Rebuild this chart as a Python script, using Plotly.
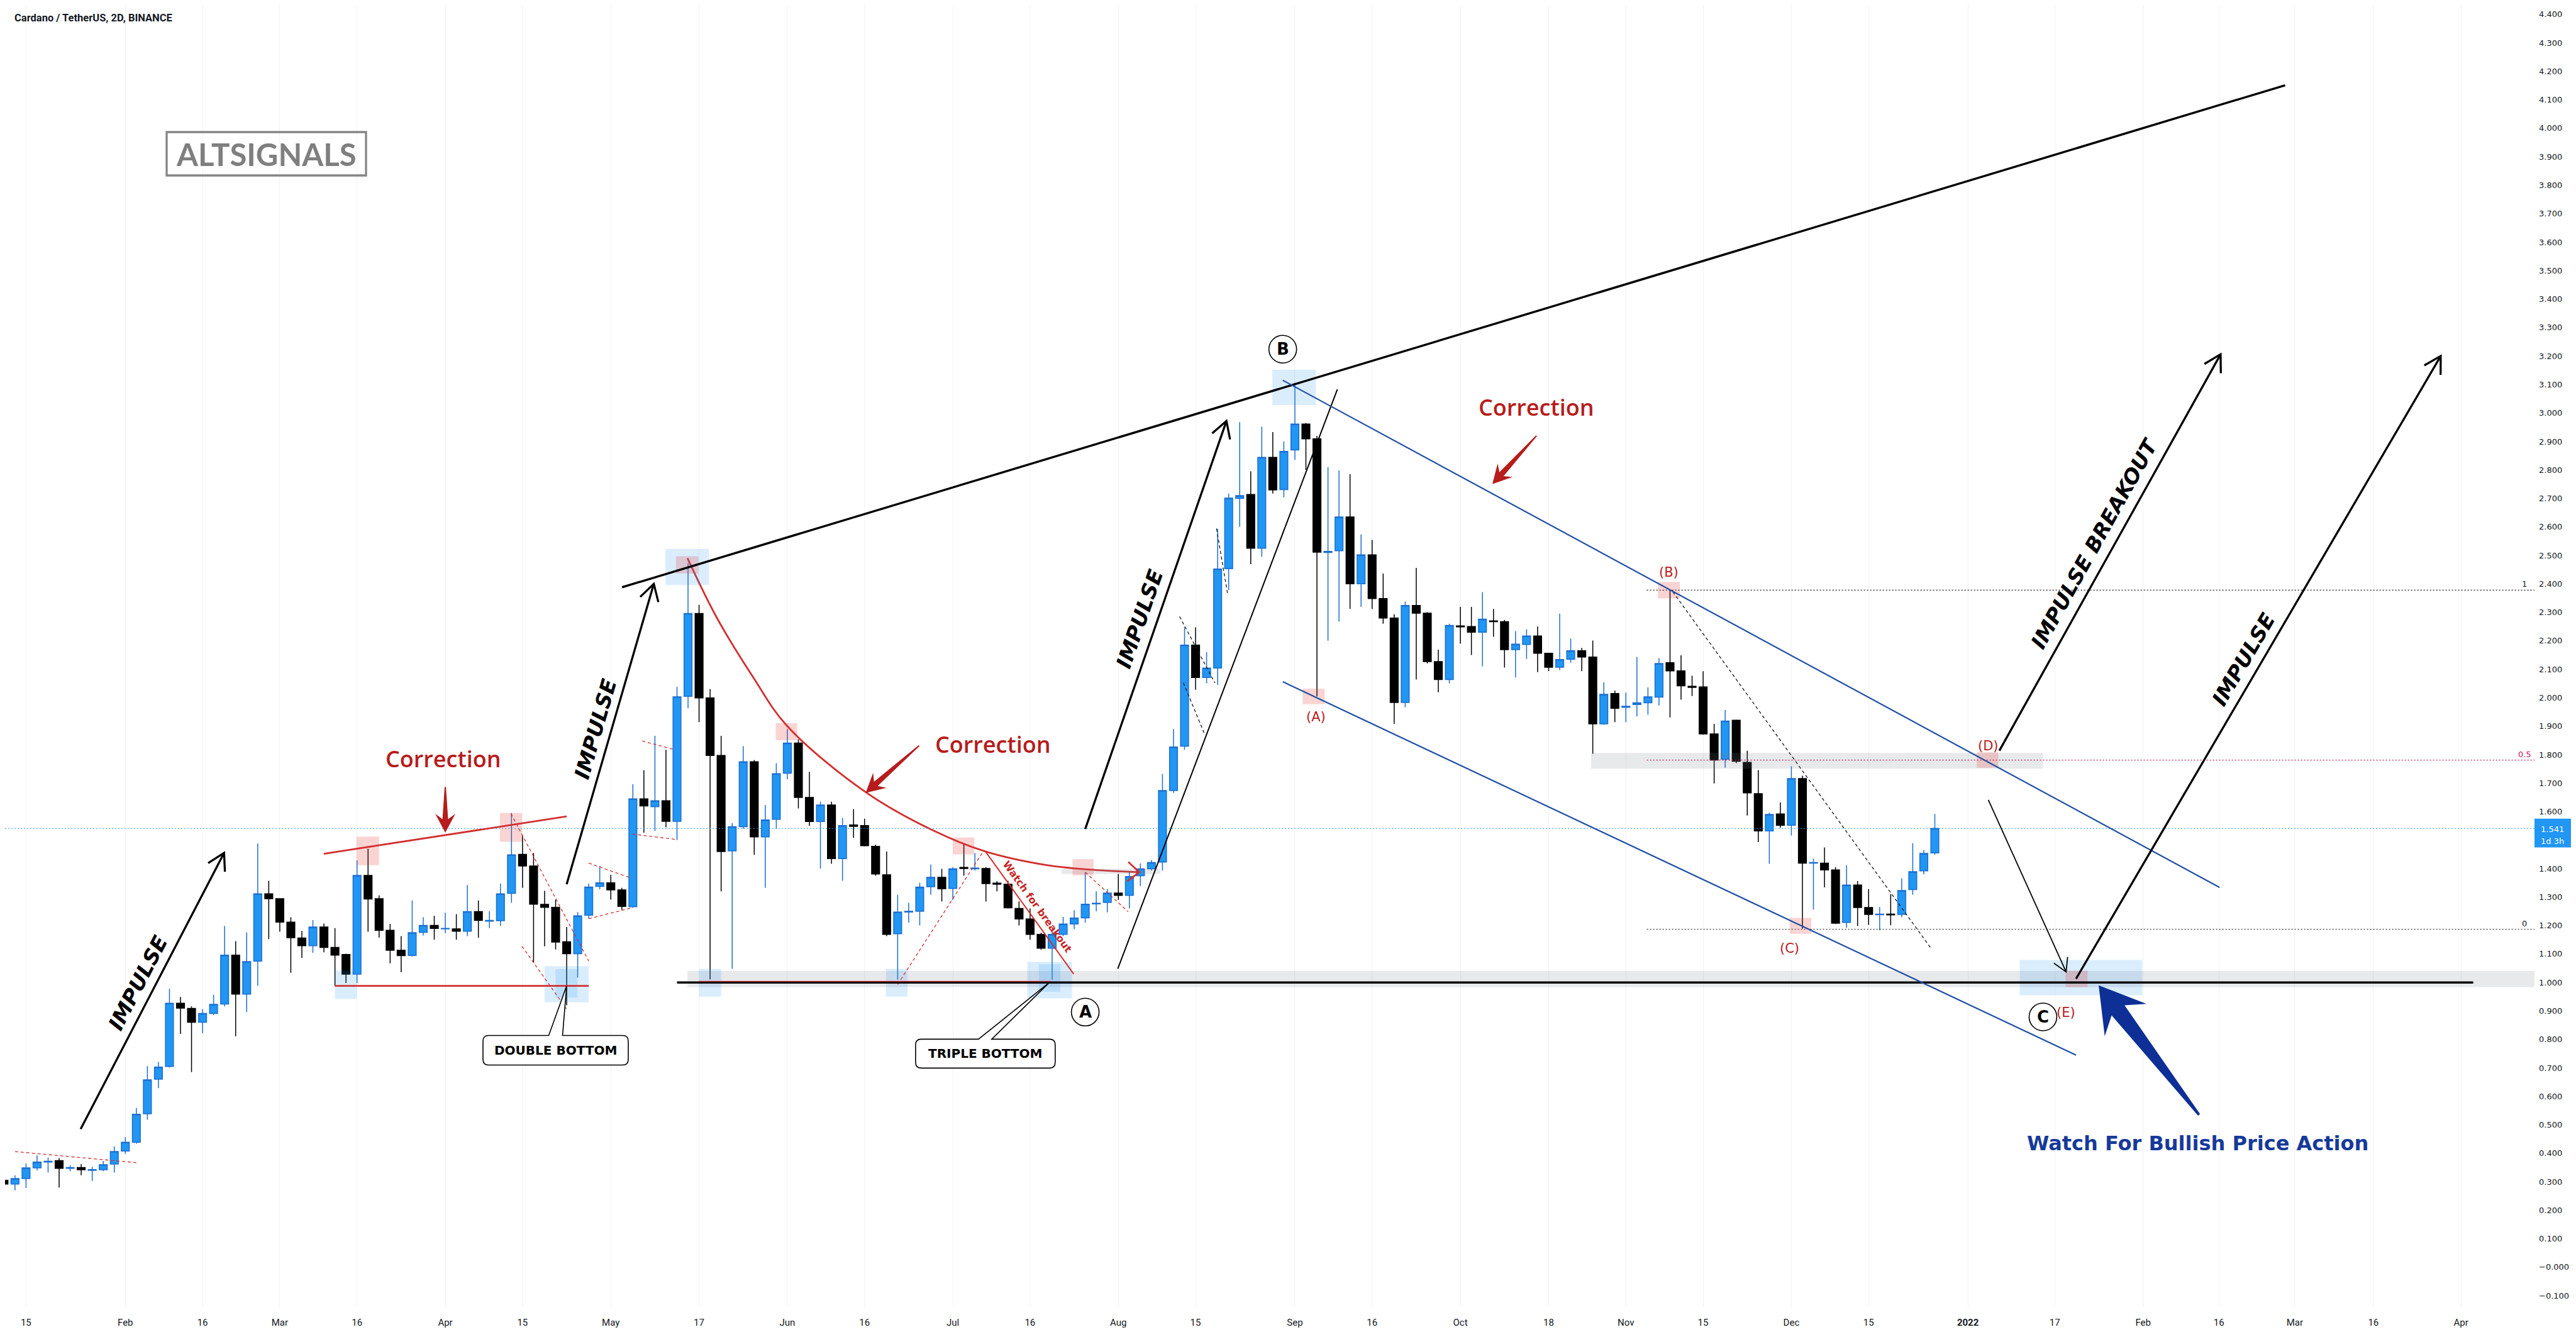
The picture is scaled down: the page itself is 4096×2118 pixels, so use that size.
import math
import pandas as pd
import plotly.graph_objects as go

# ---------------- candle data (ADA / USDT, 2-day bars) ----------------
BAR_START = "2021-01-11"
OPEN = [0.305, 0.292, 0.311, 0.349, 0.369, 0.374, 0.347, 0.350, 0.340, 0.342,
        0.362, 0.408, 0.439, 0.539, 0.660, 0.705, 0.927, 0.909, 0.860, 0.891,
        0.924, 1.096, 0.959, 1.075, 1.311, 1.294, 1.212, 1.156, 1.129, 1.195,
        1.123, 1.098, 1.029, 1.376, 1.294, 1.183, 1.113, 1.095, 1.176, 1.200,
        1.188, 1.188, 1.180, 1.249, 1.215, 1.217, 1.313, 1.450, 1.409, 1.274,
        1.264, 1.143, 1.101, 1.236, 1.337, 1.350, 1.325, 1.266, 1.645, 1.617,
        1.638, 1.566, 2.005, 2.296, 1.999, 1.797, 1.462, 1.547, 1.775, 1.511,
        1.573, 1.735, 1.841, 1.650, 1.565, 1.623, 1.435, 1.553, 1.551, 1.478,
        1.378, 1.171, 1.247, 1.250, 1.336, 1.369, 1.330, 1.404, 1.399, 1.400,
        1.349, 1.345, 1.260, 1.223, 1.169, 1.120, 1.169, 1.205, 1.227, 1.276,
        1.281, 1.314, 1.306, 1.375, 1.399, 1.423, 1.674, 1.830, 2.185, 2.071,
        2.104, 2.453, 2.700, 2.714, 2.525, 2.844, 2.731, 2.870, 2.961, 2.909,
        2.510, 2.516, 2.635, 2.400, 2.502, 2.348, 2.280, 1.983, 2.324, 2.297,
        2.127, 2.064, 2.252, 2.250, 2.230, 2.270, 2.267, 2.169, 2.187, 2.217,
        2.156, 2.107, 2.135, 2.165, 2.143, 1.908, 2.015, 1.966, 1.976, 1.982,
        2.002, 2.123, 2.094, 2.040, 2.038, 1.873, 1.784, 1.921, 1.773, 1.663,
        1.532, 1.592, 1.552, 1.716, 1.419, 1.419, 1.395, 1.211, 1.342, 1.263,
        1.238, 1.240, 1.239, 1.326, 1.392, 1.455]
HIGH = [0.330, 0.323, 0.364, 0.393, 0.385, 0.383, 0.357, 0.362, 0.352, 0.373,
        0.424, 0.457, 0.559, 0.706, 0.721, 0.978, 0.949, 0.916, 0.906, 0.957,
        1.198, 1.145, 1.176, 1.488, 1.357, 1.296, 1.229, 1.181, 1.219, 1.207,
        1.191, 1.101, 1.429, 1.470, 1.306, 1.206, 1.163, 1.288, 1.229, 1.234,
        1.245, 1.240, 1.342, 1.288, 1.250, 1.347, 1.595, 1.516, 1.455, 1.322,
        1.291, 1.195, 1.247, 1.347, 1.409, 1.378, 1.332, 1.696, 1.745, 1.866,
        1.817, 2.038, 2.472, 2.326, 2.030, 1.866, 1.560, 1.830, 1.781, 1.623,
        1.770, 1.890, 1.854, 1.740, 1.635, 1.635, 1.578, 1.609, 1.575, 1.484,
        1.460, 1.308, 1.280, 1.350, 1.414, 1.399, 1.405, 1.484, 1.454, 1.405,
        1.356, 1.357, 1.285, 1.260, 1.175, 1.185, 1.230, 1.254, 1.387, 1.320,
        1.327, 1.381, 1.390, 1.418, 1.430, 1.732, 1.890, 2.248, 2.247, 2.160,
        2.593, 2.717, 2.968, 2.795, 2.952, 2.933, 2.900, 3.106, 2.965, 2.920,
        2.810, 2.798, 2.785, 2.573, 2.554, 2.436, 2.293, 2.338, 2.456, 2.300,
        2.169, 2.260, 2.319, 2.319, 2.371, 2.312, 2.273, 2.234, 2.240, 2.250,
        2.158, 2.295, 2.208, 2.175, 2.201, 2.054, 2.025, 2.018, 2.143, 2.036,
        2.139, 2.378, 2.149, 2.077, 2.093, 1.908, 1.957, 1.923, 1.814, 1.746,
        1.596, 1.632, 1.759, 1.726, 1.435, 1.474, 1.405, 1.411, 1.356, 1.328,
        1.265, 1.310, 1.366, 1.489, 1.465, 1.592]
LOW = [0.270, 0.270, 0.278, 0.340, 0.332, 0.280, 0.337, 0.323, 0.303, 0.337,
       0.332, 0.398, 0.434, 0.518, 0.629, 0.701, 0.819, 0.685, 0.822, 0.886,
       0.916, 0.811, 0.896, 0.988, 1.152, 1.178, 1.034, 1.086, 1.104, 1.106,
       0.988, 0.998, 0.998, 1.178, 1.157, 1.067, 1.036, 1.091, 1.165, 1.150,
       1.173, 1.150, 1.163, 1.157, 1.191, 1.198, 1.280, 1.332, 1.070, 1.127,
       1.116, 0.920, 1.017, 1.224, 1.327, 1.291, 1.255, 1.262, 1.526, 1.532,
       1.545, 1.500, 1.963, 1.914, 1.011, 1.320, 1.048, 1.540, 1.448, 1.332,
       1.540, 1.714, 1.611, 1.550, 1.400, 1.417, 1.357, 1.508, 1.478, 1.375,
       1.163, 1.010, 1.210, 1.200, 1.308, 1.284, 1.290, 1.375, 1.393, 1.284,
       1.320, 1.260, 1.200, 1.150, 1.115, 1.010, 1.163, 1.187, 1.210, 1.250,
       1.246, 1.290, 1.260, 1.339, 1.393, 1.393, 1.666, 1.817, 2.028, 2.050,
       2.045, 2.378, 2.600, 2.469, 2.495, 2.717, 2.704, 2.835, 2.800, 2.005,
       2.200, 2.267, 2.312, 2.319, 2.312, 2.260, 1.908, 1.966, 2.064, 2.120,
       2.019, 2.050, 2.190, 2.150, 2.110, 2.214, 2.106, 2.071, 2.136, 2.090,
       2.093, 2.097, 2.123, 2.093, 1.803, 1.905, 1.914, 1.914, 1.934, 1.940,
       1.973, 1.931, 1.993, 2.006, 1.870, 1.699, 1.754, 1.770, 1.586, 1.493,
       1.417, 1.544, 1.516, 1.189, 1.256, 1.334, 1.205, 1.192, 1.198, 1.202,
       1.183, 1.201, 1.229, 1.308, 1.380, 1.449]
CLOSE = [0.292, 0.311, 0.349, 0.369, 0.372, 0.347, 0.350, 0.342, 0.343, 0.360,
         0.406, 0.439, 0.537, 0.658, 0.703, 0.927, 0.910, 0.860, 0.891, 0.923,
         1.096, 0.959, 1.073, 1.311, 1.294, 1.212, 1.157, 1.129, 1.195, 1.123,
         1.096, 1.029, 1.376, 1.293, 1.183, 1.113, 1.094, 1.175, 1.200, 1.190,
         1.190, 1.180, 1.249, 1.218, 1.218, 1.311, 1.448, 1.409, 1.275, 1.264,
         1.142, 1.101, 1.234, 1.335, 1.350, 1.325, 1.267, 1.645, 1.620, 1.638,
         1.566, 2.003, 2.296, 1.999, 1.797, 1.460, 1.547, 1.775, 1.511, 1.571,
         1.733, 1.841, 1.650, 1.565, 1.623, 1.435, 1.551, 1.548, 1.480, 1.381,
         1.169, 1.247, 1.250, 1.335, 1.369, 1.329, 1.399, 1.400, 1.402, 1.347,
         1.345, 1.262, 1.223, 1.169, 1.120, 1.169, 1.205, 1.226, 1.275, 1.278,
         1.314, 1.306, 1.372, 1.399, 1.421, 1.674, 1.827, 2.185, 2.071, 2.104,
         2.452, 2.701, 2.710, 2.525, 2.844, 2.730, 2.865, 2.961, 2.909, 2.511,
         2.514, 2.635, 2.400, 2.502, 2.348, 2.280, 1.983, 2.324, 2.297, 2.127,
         2.064, 2.254, 2.249, 2.230, 2.276, 2.267, 2.169, 2.188, 2.217, 2.156,
         2.107, 2.134, 2.165, 2.143, 1.908, 2.012, 1.963, 1.970, 1.982, 2.003,
         2.120, 2.094, 2.042, 2.036, 1.873, 1.781, 1.918, 1.777, 1.666, 1.532,
         1.590, 1.552, 1.716, 1.419, 1.421, 1.395, 1.208, 1.342, 1.263, 1.239,
         1.240, 1.237, 1.323, 1.389, 1.453, 1.541]
BAR_DATES = pd.date_range(BAR_START, periods=len(OPEN), freq="2D")
LAST_PRICE = 1.541

# ---------------- axis ticks ----------------
X_TICK_DATES = ["2021-01-15", "2021-02-02", "2021-02-16", "2021-03-02", "2021-03-16",
                "2021-04-01", "2021-04-15", "2021-05-01", "2021-05-17", "2021-06-02",
                "2021-06-16", "2021-07-02", "2021-07-16", "2021-08-01", "2021-08-15",
                "2021-09-02", "2021-09-16", "2021-10-02", "2021-10-18", "2021-11-01",
                "2021-11-15", "2021-12-01", "2021-12-15", "2022-01-02", "2022-01-17 18:00",
                "2022-02-02 18:00", "2022-02-16 12:00", "2022-03-02 06:00",
                "2022-03-16 12:00", "2022-04-01 09:00"]
X_TICK_TEXT = ["15", "Feb", "16", "Mar", "16", "Apr", "15", "May", "17", "Jun", "16",
               "Jul", "16", "Aug", "15", "Sep", "16", "Oct", "18", "Nov", "15", "Dec",
               "15", "<b>2022</b>", "17", "Feb", "16", "Mar", "16", "Apr"]
Y_TICK_VALUES = [-0.1, 0.0, 0.1, 0.2, 0.3, 0.4, 0.5, 0.6, 0.7, 0.8, 0.9, 1.0, 1.1, 1.2,
                 1.3, 1.4, 1.6, 1.7, 1.8, 1.9, 2.0, 2.1, 2.2, 2.3, 2.4, 2.5, 2.6, 2.7,
                 2.8, 2.9, 3.0, 3.1, 3.2, 3.3, 3.4, 3.5, 3.6, 3.7, 3.8, 3.9, 4.0, 4.1,
                 4.2, 4.3, 4.4]
Y_TICK_TEXT = ["\u22120.100", "\u22120.000"] + ["%.3f" % v for v in Y_TICK_VALUES[2:]]

# ---------------- layout geometry ----------------
W, H = 4096, 2118
MARGIN = dict(l=0, r=74, t=0, b=48)
PLOT_W = W - MARGIN["l"] - MARGIN["r"]
PLOT_H = H - MARGIN["t"] - MARGIN["b"]
BASE = pd.Timestamp("2021-01-13")          # drawing anchors: days after this date, price
X_RANGE_D = (-1.805, 456.7)
Y_RANGE = (-0.1393, 4.4327)
PX_PER_DAY = PLOT_W / (X_RANGE_D[1] - X_RANGE_D[0])
PX_PER_UNIT = PLOT_H / (Y_RANGE[1] - Y_RANGE[0])

# ---------------- drawings (day offset, price) ----------------
TOP_TRENDLINE = [(110.05, 2.388), (411.5, 4.151)]
IMPULSE_ARROWS = [((11.9, 0.485), (37.9, 1.455)),
                  ((100.0, 1.345), (115.8, 2.400)),
                  ((194.0, 1.539), (219.6, 2.972)),
                  ((359.7, 1.814), (399.8, 3.206)),
                  ((373.6, 1.013), (439.7, 3.200))]
IMPULSE_LABELS = [((22.3, 1.000), "IMPULSE", 0),
                  ((105.2, 1.890), "IMPULSE", 1),
                  ((203.9, 2.278), "IMPULSE", 2),
                  ((376.9, 2.541), "IMPULSE BREAKOUT", 3),
                  ((404.0, 2.134), "IMPULSE", 4)]
CHANNEL_BLACK = [(199.9, 1.048), (239.7, 3.083)]
DOWN_ARROW = ((357.7, 1.641), (371.8, 1.037))
BLUE_UPPER = [(229.8, 3.115), (399.6, 1.334)]
BLUE_LOWER = [(229.8, 2.056), (373.6, 0.745)]
RED_TRI_TOP = [(55.97, 1.452), (100.0, 1.583)]
RED_SUPPORT = [(57.97, 0.988), (104.0, 0.988)]
BLACK_SUPPORT = [(120.0, 1.0), (445.6, 1.0)]
RED_SUPPORT_2 = [(124.0, 1.004), (187.8, 1.004)]
BREAKOUT_LINE = [(175.9, 1.460), (191.9, 1.030)]
ARC_D = [121.9, 127.3, 133.8, 139.9, 154.3, 166.5, 175.9, 187.0, 195.2, 203.8]
ARC_P = [2.490, 2.278, 2.072, 1.902, 1.667, 1.533, 1.460, 1.412, 1.396, 1.387]
RED_DASHED = [[(0.0, 0.406), (22.0, 0.367)],
              [(89.9, 1.593), (104.0, 1.075)],
              [(91.9, 1.127), (100.0, 0.906)],
              [(104.0, 1.419), (111.8, 1.366)],
              [(104.0, 1.224), (111.8, 1.262)],
              [(113.7, 1.848), (119.5, 1.818)],
              [(111.9, 1.521), (119.9, 1.502)],
              [(160.0, 0.993), (175.5, 1.460)],
              [(194.0, 1.387), (201.8, 1.248)]]
BLACK_DASHED = [[(211.1, 2.285), (217.5, 2.052)],
                [(211.8, 2.052), (215.7, 1.869)],
                [(217.8, 2.594), (219.8, 2.365)],
                [(300.5, 2.372), (347.3, 1.120)]]
PINK_BOXES = [(61.9, 66.0, 1.412, 1.512), (87.9, 91.9, 1.494, 1.595),
              (119.8, 123.9, 2.436, 2.497), (137.9, 141.8, 1.851, 1.911),
              (170.0, 173.9, 1.450, 1.509), (191.7, 195.5, 1.376, 1.433),
              (233.4, 237.4, 1.977, 2.032), (297.8, 301.8, 2.349, 2.407),
              (321.7, 325.6, 1.171, 1.227), (355.6, 359.5, 1.754, 1.808),
              (371.7, 375.7, 0.983, 1.041)]
BLUE_BOXES = [(58.0, 61.96, 0.942, 1.042), (96.0, 104.0, 0.930, 1.057),
              (97.97, 101.97, 0.947, 1.047), (117.9, 125.8, 2.396, 2.523),
              (124.0, 128.0, 0.950, 1.048), (157.9, 161.8, 0.950, 1.048),
              (183.5, 191.6, 0.944, 1.072), (185.6, 189.5, 0.967, 1.064),
              (227.9, 235.8, 3.028, 3.152), (363.4, 385.6, 0.955, 1.079)]
GRAY_BANDS = [(121.9, X_RANGE_D[1], 0.984, 1.040), (285.7, 367.6, 1.751, 1.806),
              (189.7, 207.6, 1.381, 1.399)]
FIB_START = 295.8
FIB_LEVELS = [(2.378, "1", "#131722"), (1.781, "0.5", "#c2185b"), (1.187, "0", "#131722")]
CORRECTION_LABELS = [(77.7, 1.785), (177.3, 1.837), (275.8, 3.020)]
RED_FAT_ARROWS = [((78.0, 1.687), (78.0, 1.526)),
                  ((163.9, 1.832), (154.2, 1.666)),
                  ((275.8, 2.920), (267.8, 2.750))]
BLUE_FAT_ARROW = ((395.9, 0.535), (377.7, 0.990))
WAVE_LABELS = [((235.8, 1.932), "(A)"), ((299.8, 2.441), "(B)"), ((321.7, 1.120), "(C)"),
               ((357.7, 1.831), "(D)"), ((371.8, 0.895), "(E)")]
CIRCLE_LABELS = [((194.0, 0.896), "A"), ((229.8, 3.224), "B"), ((367.6, 0.879), "C")]
CALLOUTS = [((98.0, 0.762), (100.0, 0.988), "DOUBLE BOTTOM", 231, 47, -11, 11),
            ((175.9, 0.750), (187.5, 1.000), "TRIPLE BOTTOM", 222, 46, -11, 10)]
WATCH_TEXT = ((185.3, 1.266), "Watch for breakout")
BULLISH_TEXT = ((395.6, 0.434), "Watch For Bullish Price Action")


def ts(d):
    return (BASE + pd.Timedelta(days=d)).strftime("%Y-%m-%d %H:%M:%S")


def screen_vec(a, b):
    return ((b[0] - a[0]) * PX_PER_DAY, (b[1] - a[1]) * PX_PER_UNIT)


fig = go.Figure()

fig.add_trace(go.Candlestick(
    x=BAR_DATES, open=OPEN, high=HIGH, low=LOW, close=CLOSE,
    increasing=dict(line=dict(color="#1C6FD1", width=1.5), fillcolor="#2196F3"),
    decreasing=dict(line=dict(color="#000000", width=1.5), fillcolor="#000000"),
    whiskerwidth=0, showlegend=False, hoverinfo="skip"))

fig.add_trace(go.Scatter(
    x=[ts(d) for d in ARC_D], y=ARC_P, mode="lines",
    line=dict(color="#d32f2f", width=2.8, shape="spline", smoothing=1.0),
    showlegend=False, hoverinfo="skip"))


def seg(p0, p1, color, width, dash=None, layer="above"):
    fig.add_shape(type="line", x0=ts(p0[0]), y0=p0[1], x1=ts(p1[0]), y1=p1[1],
                  line=dict(color=color, width=width, dash=dash), layer=layer)


def rect(d0, d1, p0, p1, color, layer="above"):
    fig.add_shape(type="rect", x0=ts(d0), x1=ts(d1), y0=p0, y1=p1,
                  fillcolor=color, line=dict(width=0), layer=layer)


def pixel_path(anchor, path, line=None, fill="rgba(0,0,0,0)"):
    fig.add_shape(type="path", xsizemode="pixel", ysizemode="pixel",
                  xanchor=ts(anchor[0]), yanchor=anchor[1], path=path,
                  line=line or dict(width=0), fillcolor=fill, layer="above")


def vhead(tail, tip, arm, half_deg, color, width):
    dx, dy = screen_vec(tail, tip)
    L = math.hypot(dx, dy)
    bx, by = -dx / L, -dy / L
    pts = []
    for s in (1, -1):
        a = math.radians(half_deg) * s
        pts.append((arm * (bx * math.cos(a) - by * math.sin(a)),
                    arm * (bx * math.sin(a) + by * math.cos(a))))
    path = "M %.2f,%.2f L 0,0 L %.2f,%.2f" % (pts[0][0], pts[0][1], pts[1][0], pts[1][1])
    pixel_path(tip, path, line=dict(color=color, width=width))


def fat_arrow(tail, tip, head_w, head_l, w_head, w_tail, color):
    dx, dy = screen_vec(tail, tip)
    L = math.hypot(dx, dy)
    ux, uy = dx / L, dy / L
    nx, ny = -uy, ux

    def P(a, b):
        return (-ux * a + nx * b, -uy * a + ny * b)
    pts = [P(0, 0), P(head_l, head_w / 2), P(head_l * 0.72, w_head / 2), P(L, w_tail / 2),
           P(L, -w_tail / 2), P(head_l * 0.72, -w_head / 2), P(head_l, -head_w / 2)]
    path = "M " + " L ".join("%.2f,%.2f" % p for p in pts) + " Z"
    pixel_path(tip, path, fill=color)


# gray bands
for d0, d1, p0, p1 in GRAY_BANDS:
    rect(d0, d1, p0, p1, "rgba(120,123,134,0.17)")

# current price line
fig.add_shape(type="line", x0=ts(X_RANGE_D[0]), x1=ts(X_RANGE_D[1]), y0=LAST_PRICE, y1=LAST_PRICE,
              line=dict(color="#2196F3", width=1.2, dash="2px,3px"), layer="above")

# fib levels
for lvl, lab, col in FIB_LEVELS:
    seg((FIB_START, lvl), (X_RANGE_D[1], lvl), col, 1.2, "2px,3px")
    fig.add_annotation(xref="paper", x=(PLOT_W - 16) / PLOT_W, y=lvl, yref="y", text=lab,
                       showarrow=False, xanchor="center", yanchor="bottom",
                       font=dict(family="DejaVu Sans", size=13, color=col))

# boxes
for d0, d1, p0, p1 in BLUE_BOXES:
    rect(d0, d1, p0, p1, "rgba(33,150,243,0.17)")
for d0, d1, p0, p1 in PINK_BOXES:
    rect(d0, d1, p0, p1, "rgba(229,57,53,0.22)")

# dashed helper lines
for a, b in RED_DASHED:
    seg(a, b, "#d32f2f", 1.3, "5px,4px")
for a, b in BLACK_DASHED:
    seg(a, b, "#131722", 1.3, "5px,4px")

# solid lines
seg(*RED_TRI_TOP, "#d32f2f", 2.8)
seg(*RED_SUPPORT, "#d32f2f", 2.8)
seg(*BLACK_SUPPORT, "#000000", 3.6)
seg(*RED_SUPPORT_2, "#d32f2f", 1.4)
seg(*BREAKOUT_LINE, "#d32f2f", 2.0)
seg(*TOP_TRENDLINE, "#000000", 3.4)
seg(*CHANNEL_BLACK, "#000000", 2.0)
seg(*BLUE_UPPER, "#1f4ea3", 2.2)
seg(*BLUE_LOWER, "#1f4ea3", 2.2)

# arc arrowhead
vhead((ARC_D[-2], ARC_P[-2]), (ARC_D[-1], ARC_P[-1]), 24, 40, "#d32f2f", 2.8)

# impulse arrows and labels
for tail, tip in IMPULSE_ARROWS:
    seg(tail, tip, "#000000", 3.3)
    vhead(tail, tip, 30, 30, "#000000", 3.3)
for (d, p), text, k in IMPULSE_LABELS:
    dx, dy = screen_vec(*IMPULSE_ARROWS[k])
    ang = -math.degrees(math.atan2(dy, dx))
    fig.add_annotation(x=ts(d), y=p, text="<b><i>%s</i></b>" % text, showarrow=False,
                       textangle=ang, xanchor="center", yanchor="middle",
                       font=dict(family="DejaVu Sans", size=33, color="#000000"))

# down arrow D -> E
seg(*DOWN_ARROW, "#000000", 1.8)
vhead(DOWN_ARROW[0], DOWN_ARROW[1], 24, 30, "#000000", 1.8)

# fat arrows
for tail, tip in RED_FAT_ARROWS:
    fat_arrow(tail, tip, 32, 30, 9, 2, "#b71c1c")
fat_arrow(BLUE_FAT_ARROW[0], BLUE_FAT_ARROW[1], 84, 70, 26, 4, "#0d2f96")

# correction labels
for d, p in CORRECTION_LABELS:
    fig.add_annotation(x=ts(d), y=p, text="Correction", showarrow=False,
                       xanchor="center", yanchor="middle",
                       font=dict(family="Open Sans", size=36, color="#b71c1c", weight=600))

# watch for breakout
dx, dy = screen_vec(*BREAKOUT_LINE)
fig.add_annotation(x=ts(WATCH_TEXT[0][0]), y=WATCH_TEXT[0][1], text="<b>%s</b>" % WATCH_TEXT[1],
                   showarrow=False, textangle=-math.degrees(math.atan2(dy, dx)),
                   xanchor="center", yanchor="middle",
                   font=dict(family="DejaVu Sans", size=16, color="#c62828"))

# wave labels
for (d, p), t in WAVE_LABELS:
    fig.add_annotation(x=ts(d), y=p, text=t, showarrow=False, xanchor="center", yanchor="middle",
                       font=dict(family="DejaVu Sans", size=21, color="#b71c1c"))

# circled letters
for (d, p), t in CIRCLE_LABELS:
    fig.add_shape(type="circle", xsizemode="pixel", ysizemode="pixel", xanchor=ts(d), yanchor=p,
                  x0=-22, x1=22, y0=-22, y1=22, line=dict(color="#000000", width=1.6),
                  fillcolor="rgba(255,255,255,0)", layer="above")
    fig.add_annotation(x=ts(d), y=p, text="<b>%s</b>" % t, showarrow=False,
                       xanchor="center", yanchor="middle",
                       font=dict(family="DejaVu Sans", size=26, color="#000000"))

# callouts
for center, tip, text, w, h, bl, br in CALLOUTS:
    tx, ty = screen_vec(center, tip)
    hw, hh, r = w / 2, h / 2, 9
    path = ("M %.1f,%.1f L %.1f,%.1f L %.1f,%.1f L %.1f,%.1f L %.1f,%.1f Q %.1f,%.1f %.1f,%.1f "
            "L %.1f,%.1f Q %.1f,%.1f %.1f,%.1f L %.1f,%.1f Q %.1f,%.1f %.1f,%.1f "
            "L %.1f,%.1f Q %.1f,%.1f %.1f,%.1f Z") % (
        -hw + r, hh, bl, hh, tx, ty, br, hh, hw - r, hh, hw, hh, hw, hh - r,
        hw, -hh + r, hw, -hh, hw - r, -hh, -hw + r, -hh, -hw, -hh, -hw, -hh + r,
        -hw, hh - r, -hw, hh, -hw + r, hh)
    pixel_path(center, path, line=dict(color="#000000", width=1.6), fill="#ffffff")
    fig.add_annotation(x=ts(center[0]), y=center[1], text="<b>%s</b>" % text, showarrow=False,
                       xanchor="center", yanchor="middle",
                       font=dict(family="DejaVu Sans", size=20, color="#000000"))

# bullish text
fig.add_annotation(x=ts(BULLISH_TEXT[0][0]), y=BULLISH_TEXT[0][1], text="<b>%s</b>" % BULLISH_TEXT[1],
                   showarrow=False, xanchor="center", yanchor="middle",
                   font=dict(family="DejaVu Sans", size=32, color="#163a9a"))

# logo
fig.add_shape(type="rect", xref="paper", yref="paper", x0=257 / PLOT_W, x1=574 / PLOT_W,
              y0=1 - 271 / PLOT_H, y1=1 - 202 / PLOT_H,
              line=dict(color="#858585", width=3.3), fillcolor="rgba(255,255,255,0)", layer="above")
fig.add_annotation(xref="paper", yref="paper", x=415.5 / PLOT_W, y=1 - 237 / PLOT_H,
                   xanchor="center", yanchor="middle",
                   text="<b>ALTSIGNALS</b>", showarrow=False,
                   font=dict(family="Lato", size=49, color="#7f7f7f"))

# title
fig.add_annotation(xref="paper", yref="paper", x=13 / PLOT_W, y=1 - 20 / PLOT_H, xanchor="left",
                   yanchor="middle", text="<b>Cardano / TetherUS, 2D, BINANCE</b>", showarrow=False,
                   font=dict(family="Roboto", size=16.5, color="#131722"))

# price tag on the scale
def yp(v):
    return (v - Y_RANGE[0]) / (Y_RANGE[1] - Y_RANGE[0])

fig.add_shape(type="rect", xref="paper", yref="paper", x0=1.0, x1=1 + 61 / PLOT_W,
              y0=yp(1.474), y1=yp(1.575), fillcolor="#2196F3", line=dict(width=0), layer="above")
fig.add_annotation(xref="paper", yref="y", x=1 + 8 / PLOT_W, y=1.539, xanchor="left",
                   yanchor="middle", text="%.3f" % LAST_PRICE, showarrow=False,
                   font=dict(family="DejaVu Sans", size=13, color="#ffffff"))
fig.add_annotation(xref="paper", yref="y", x=1 + 8 / PLOT_W, y=1.497, xanchor="left",
                   yanchor="middle", text="1d 3h", showarrow=False,
                   font=dict(family="DejaVu Sans", size=13, color="#ffffff"))

fig.update_layout(
    width=W, height=H, margin=MARGIN, paper_bgcolor="#ffffff", plot_bgcolor="#ffffff",
    showlegend=False, hovermode=False, boxgap=0.28, boxgroupgap=0,
    xaxis=dict(type="date", range=[ts(X_RANGE_D[0]), ts(X_RANGE_D[1])],
               tickvals=X_TICK_DATES, ticktext=X_TICK_TEXT, showgrid=True,
               gridcolor="#f2f2f2", gridwidth=1, ticks="", zeroline=False, showline=False,
               ticklabelstandoff=14, rangeslider=dict(visible=False),
               tickfont=dict(family="Roboto", size=15, color="#131722")),
    yaxis=dict(side="right", range=list(Y_RANGE), tickvals=Y_TICK_VALUES, ticktext=Y_TICK_TEXT,
               showgrid=False, zeroline=False, showline=False, ticks="", ticklabelstandoff=6,
               tickfont=dict(family="DejaVu Sans", size=13, color="#131722")),
)

fig.write_html("out.html")
